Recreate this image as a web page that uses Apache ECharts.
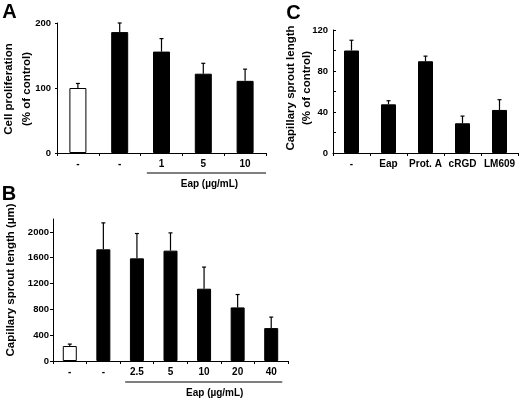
<!DOCTYPE html>
<html>
<head>
<meta charset="utf-8">
<script src="https://cdn.jsdelivr.net/npm/echarts@6/dist/echarts.min.js"></script>
<style>
    html, body { margin: 0; padding: 0; background: #fff; }
    #chart { width: 520px; height: 398px; }
</style>
</head>
<body>
<div id="chart"></div>
<script>
// 数据: A 细胞增殖, B 毛细血管长度 (µm), C 毛细血管长度 (% of control)
var catA = ['-', '-', '1', '5', '10'];
var meanA = [100, 186, 156, 122, 111];
var sdA = [7, 14, 20, 16, 18];

var catB = ['-', '-', '2.5', '5', '10', '20', '40'];
var meanB = [232, 1730, 1590, 1710, 1120, 830, 510];
var sdB = [30, 410, 385, 275, 335, 200, 170];

var catC = ['-', 'Eap', 'Prot. A', 'cRGD', 'LM609'];
var meanC = [100, 47.5, 89.5, 29, 42];
var sdC = [10, 3.5, 5, 7, 10];

var ticksB = [0, 400, 800, 1200, 1600, 2000];

var FONT = 'Liberation Sans, Arial, sans-serif';
var gridA = { left: 57, top: 23, width: 209, height: 130 };
var gridB = { left: 53, top: 219, width: 235, height: 142 };
var gridC = { left: 333, top: 30, width: 185, height: 123 };

function xAxisOf(gi, cats) {
    return {
        type: 'category',
        gridIndex: gi,
        data: cats,
        axisLine: { lineStyle: { color: '#000', width: 1 } },
        axisTick: { show: true, length: 3, lineStyle: { color: '#000' } },
        axisLabel: { color: '#000', fontWeight: 'bold', fontSize: 10, fontFamily: FONT, margin: 6, interval: 0 }
    };
}

function yAxisBase(gi) {
    return {
        type: 'value',
        gridIndex: gi,
        axisLine: { show: true, lineStyle: { color: '#000', width: 1 } },
        axisTick: { show: true, length: 3, lineStyle: { color: '#000' } },
        axisLabel: { color: '#000', fontWeight: 'bold', fontSize: 9.5, fontFamily: FONT, margin: 5 },
        splitLine: { show: false }
    };
}

var yA = yAxisBase(0);
yA.min = 0; yA.max = 200; yA.interval = 100;
yA.axisTick.length = 2;
yA.axisLabel.margin = 6;

var yB = yAxisBase(1);
yB.min = 0; yB.max = 2200; yB.interval = 400;
yB.axisTick.customValues = ticksB;
yB.axisLabel.customValues = ticksB;
yB.axisLabel.margin = 4;
yB.axisLabel.formatter = function (v) { return v > 2000 ? '' : v; };

var yC = yAxisBase(2);
yC.min = 0; yC.max = 120; yC.interval = 20;
yC.axisTick.inside = true;
yC.axisLabel.formatter = function (v) { return v % 40 === 0 ? v : ''; };

function barSeries(idx, vals, w) {
    return {
        type: 'bar',
        xAxisIndex: idx,
        yAxisIndex: idx,
        barWidth: w,
        data: vals,
        itemStyle: {
            color: function (p) { return (idx < 2 && p.dataIndex === 0) ? '#fff' : '#000'; },
            borderColor: '#000',
            borderWidth: 1
        },
        silent: true
    };
}

// 误差线 (只画上半部分)
function errSeries(idx, vals, sd) {
    return {
        type: 'custom',
        xAxisIndex: idx,
        yAxisIndex: idx,
        z: 5,
        silent: true,
        data: vals.map(function (m, i) { return [i, m, m + sd[i]]; }),
        encode: { x: 0, y: [1, 2] },
        renderItem: function (params, api) {
            var p0 = api.coord([api.value(0), api.value(1)]);
            var p1 = api.coord([api.value(0), api.value(2)]);
            return {
                type: 'group',
                children: [
                    { type: 'line', shape: { x1: p0[0], y1: p0[1], x2: p1[0], y2: p1[1] }, style: { stroke: '#000', lineWidth: 1.2 } },
                    { type: 'line', shape: { x1: p1[0] - 2, y1: p1[1], x2: p1[0] + 2, y2: p1[1] }, style: { stroke: '#000', lineWidth: 1.2 } }
                ]
            };
        }
    };
}

function vText(x, y, txt, lh) {
    return {
        type: 'text', x: x, y: y, rotation: Math.PI / 2, silent: true,
        style: { text: txt, fill: '#000', font: 'bold 11.5px ' + FONT, textAlign: 'center', textVerticalAlign: 'middle', lineHeight: lh || 14 }
    };
}

function letter(x, y, t) {
    return {
        type: 'text', x: x, y: y, silent: true,
        style: { text: t, fill: '#000', font: 'bold 20px ' + FONT, textAlign: 'center', textVerticalAlign: 'middle' }
    };
}

var myChart = echarts.init(document.getElementById('chart'));

var option = {
    animation: false,
    backgroundColor: '#fff',
    grid: [
        Object.assign({ outerBoundsMode: 'none' }, gridA),
        Object.assign({ outerBoundsMode: 'none' }, gridB),
        Object.assign({ outerBoundsMode: 'none' }, gridC)
    ],
    xAxis: [xAxisOf(0, catA), xAxisOf(1, catB), xAxisOf(2, catC)],
    yAxis: [yA, yB, yC],
    series: [
        barSeries(0, meanA, 17), errSeries(0, meanA, sdA),
        barSeries(1, meanB, 14), errSeries(1, meanB, sdB),
        barSeries(2, meanC, 15), errSeries(2, meanC, sdC)
    ]
};
myChart.setOption(option);

// 标注: 横线和 "Eap (µg/mL)"
function bracket(xi, fromFrac, toFrac, y, labelShift) {
    var c0 = myChart.convertToPixel({ xAxisIndex: xi }, 0);
    var c1 = myChart.convertToPixel({ xAxisIndex: xi }, 1);
    var bw = c1 - c0;
    var n = option.xAxis[xi].data.length;
    var x1 = myChart.convertToPixel({ xAxisIndex: xi }, 2) - bw * fromFrac;
    var x2 = myChart.convertToPixel({ xAxisIndex: xi }, n - 1) + bw * toFrac;
    return [
        { type: 'line', silent: true, shape: { x1: x1, y1: y, x2: x2, y2: y }, style: { stroke: '#000', lineWidth: 1 } },
        {
            type: 'text', x: (x1 + x2) / 2 + labelShift, y: y + 11, silent: true,
            style: { text: 'Eap (µg/mL)', fill: '#000', font: 'bold 10px ' + FONT, textAlign: 'center', textVerticalAlign: 'middle' }
        }
    ];
}

var graphics = []
    .concat(bracket(0, 0.35, 0.5, gridA.top + gridA.height + 20, 3))
    .concat(bracket(1, 0.35, 0.33, gridB.top + gridB.height + 21, 11))
    .concat([
        vText(17.5, 89, 'Cell proliferation\n(% of control)', 18),
        vText(11, 280, 'Capillary sprout length (µm)'),
        vText(299, 88, 'Capillary sprout length\n(% of control)', 16.5),
        letter(9.5, 12, 'A'),
        letter(9, 194, 'B'),
        letter(293.5, 13, 'C')
    ]);

myChart.setOption({ graphic: graphics });
window.onresize = myChart.resize;
</script>
</body>
</html>
